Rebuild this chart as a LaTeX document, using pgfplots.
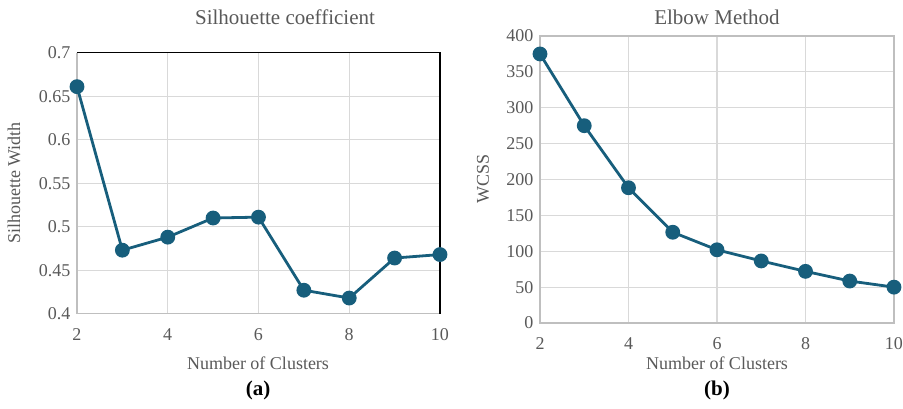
\documentclass[border=0pt]{standalone}
\usepackage{pgfplots}
\pgfplotsset{compat=1.18}
\usepackage{fontspec}
\setmainfont{Liberation Serif}
\definecolor{linec}{RGB}{23,94,124}
\definecolor{txt}{RGB}{89,89,89}
\definecolor{gridc}{RGB}{217,217,217}
\definecolor{axc}{RGB}{191,191,191}
\pgfplotsset{
  myax/.style={
    scale only axis,
    xmin=2, xmax=10,
    xtick={2,4,6,8,10},
    major tick length=0pt,
    grid=major,
    major grid style={gridc, line width=1.2pt},
    axis line style={axc, line width=1.2pt},
    tick label style={font=\fontsize{18}{20}\selectfont, text=txt},
    /pgf/number format/assume math mode=true,
    xticklabel style={yshift=-11pt},
    yticklabel style={xshift=-3pt},
    clip=false,
  },
  myplot/.style={linec, line width=2.8pt, mark=*, mark size=6pt, mark options={fill=linec, draw=none}},
}
\begin{document}
\begin{tikzpicture}
\useasboundingbox (0,0) rectangle (903pt,-408pt);
% left
\begin{axis}[myax, at={(77pt,-313.7pt)}, anchor=south west,
  width=363pt, height=261pt,
  ymin=0.4, ymax=0.7, ytick={0.4,0.45,...,0.71},
  yticklabel style={/pgf/number format/fixed, /pgf/number format/precision=2},
  axis x line*=bottom, axis y line*=left]
\draw[black, line width=1.2pt] (rel axis cs:0,1) -- (rel axis cs:1,1) -- (rel axis cs:1,0);
\addplot[myplot] coordinates {(2,0.661) (3,0.473) (4,0.488) (5,0.510) (6,0.511) (7,0.427) (8,0.418) (9,0.464) (10,0.468)};
\end{axis}
% right
\begin{axis}[myax, at={(540pt,-323pt)}, anchor=south west,
  width=354pt, height=287pt,
  ymin=0, ymax=400, ytick={0,50,...,400}]
\addplot[myplot] coordinates {(2,375) (3,275) (4,188.5) (5,126.5) (6,102) (7,86.5) (8,72) (9,58.5) (10,50)};
\end{axis}
\node[text=txt, font=\fontsize{21}{24}\selectfont] at (285pt,-17pt) {Silhouette coefficient};
\node[text=txt, font=\fontsize{21}{24}\selectfont] at (717pt,-17pt) {Elbow Method};
\node[text=txt, font=\fontsize{18}{20}\selectfont, rotate=90] at (14pt,-183pt) {Silhouette Width};
\node[text=txt, font=\fontsize{18}{20}\selectfont, rotate=90] at (483pt,-179pt) {WCSS};
\node[text=txt, font=\fontsize{18}{20}\selectfont] at (258pt,-363pt) {Number of Clusters};
\node[text=txt, font=\fontsize{18}{20}\selectfont] at (717pt,-363pt) {Number of Clusters};
\node[font=\fontsize{21}{24}\selectfont\bfseries] at (258pt,-390pt) {(a)};
\node[font=\fontsize{21}{24}\selectfont\bfseries] at (717pt,-390pt) {(b)};
\end{tikzpicture}
\end{document}
